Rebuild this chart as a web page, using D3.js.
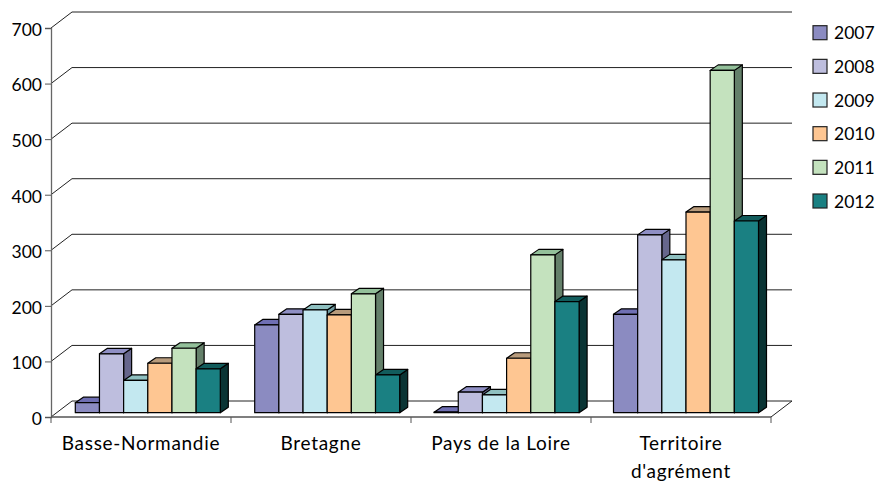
<!DOCTYPE html>
<html><head><meta charset="utf-8"><style>html,body{margin:0;background:#fff}svg{display:block}text{font-family:Lato,sans-serif;fill:#000}</style>
<script src="https://cdnjs.cloudflare.com/ajax/libs/d3/7.8.5/d3.min.js"></script></head><body><script>
const categories=[["Basse-Normandie"],["Bretagne"],["Pays de la Loire"],["Territoire","d'agrément"]];
const categoryKeys=["Basse-Normandie","Bretagne","Pays de la Loire","Territoire d'agrément"];
const years=["2007","2008","2009","2010","2011","2012"];
const v2007=[18,158,1,177];
const v2008=[106,177,37,320];
const v2009=[58,185,32,275];
const v2010=[89,176,98,361];
const v2011=[116,214,284,616];
const v2012=[79,68,200,345];
const seriesValues=[v2007,v2008,v2009,v2010,v2011,v2012];
const fronts=["#8b8bc1","#bebede","#c3e8f0","#fec692","#c4e2be","#1a8082"];
const tops=["#6f6fb3","#8f8fc4","#8fc0c0","#b89b7c","#93c09a","#125c5c"];
const sides=["#5a5a85","#66668c","#6f9aa0","#a5855f","#64806a","#0a3434"];
const yTicks=[0,100,200,300,400,500,600,700];

const W=875,H=483;
const svg=d3.select("body").append("svg").attr("width",W).attr("height",H);
const y=d3.scaleLinear().domain([0,700]).range([417,28]);
const x0=d3.scaleBand().domain(categoryKeys).range([51,771]);
const xb=d3.scaleBand().domain(categoryKeys).range([75.3,75.3+179.4*4]);
const x1=d3.scaleBand().domain(years).range([0,145]);
const wallDx=21,wallDy=-16,barDx=8,barDy=-5.5,frontDy=-4.3;

const g=svg.append("g").attr("fill","none");
yTicks.forEach(t=>{
  if(t===0) return;
  g.append("path").attr("d",`M${51},${y(t)}L${51+wallDx},${y(t)+wallDy}L${771+wallDx},${y(t)+wallDy}`)
   .attr("stroke","#222").attr("stroke-width",1);
});
g.append("path").attr("d",`M51,417L${51+wallDx},${417+wallDy}L${771+wallDx},${417+wallDy}L771,417`).attr("stroke","#222").attr("stroke-width",1);
const ya=d3.axisLeft(y).tickValues(yTicks).tickSize(6).tickPadding(3).tickFormat(d3.format("d"));
const ay=svg.append("g").attr("transform","translate(51,0)").call(ya);
ay.select(".domain").attr("stroke","#666").attr("stroke-width",1.3);
ay.selectAll(".tick line").attr("stroke","#555");
ay.selectAll("text").attr("font-size",17.5).attr("font-family","Lato,sans-serif").attr("fill","#000").attr("dy","0.42em");
svg.append("line").attr("x1",51).attr("x2",771).attr("y1",417).attr("y2",417).attr("stroke","#555").attr("stroke-width",1.3);
categoryKeys.concat([null]).forEach(c=>{
  const px=c?x0(c):771;
  svg.append("line").attr("x1",px).attr("x2",px).attr("y1",417).attr("y2",423).attr("stroke","#555");
});
categories.forEach((lines,i)=>{
  const cx=x0(categoryKeys[i])+x0.bandwidth()/2;
  const t=svg.append("text").attr("text-anchor","middle").attr("font-size",19).attr("letter-spacing",0.7);
  lines.forEach((l,j)=>t.append("tspan").attr("x",cx).attr("y",450+j*28).text(l));
});
const bars=svg.append("g").attr("stroke","#000").attr("stroke-width",1.2).attr("stroke-linejoin","round");
categoryKeys.forEach((c,ci)=>{
  years.forEach((yr,si)=>{
    const v=seriesValues[si][ci];
    const xl=xb(c)+x1(yr),w=x1.bandwidth();
    const yb=y(0)+frontDy,h=y(0)-y(v),yt=yb-h;
    const b=bars.append("g");
    b.append("path").attr("fill",sides[si]).attr("d",`M${xl+w},${yt}L${xl+w+barDx},${yt+barDy}L${xl+w+barDx},${yb+barDy}L${xl+w},${yb}Z`);
    b.append("path").attr("fill",tops[si]).attr("d",`M${xl},${yt}L${xl+barDx},${yt+barDy}L${xl+w+barDx},${yt+barDy}L${xl+w},${yt}Z`);
    b.append("rect").attr("x",xl).attr("y",yt).attr("width",w).attr("height",h).attr("fill",fronts[si]);
  });
});
const ly=d3.scalePoint().domain(years).range([32.7,201]);
years.forEach((yr,i)=>{
  svg.append("rect").attr("x",813).attr("y",ly(yr)-7).attr("width",14).attr("height",14).attr("fill",fronts[i]).attr("stroke","#222").attr("stroke-width",1.2);
  svg.append("text").attr("x",834).attr("y",ly(yr)+6.5).attr("font-size",17.5).text(yr);
});
</script></body></html>
